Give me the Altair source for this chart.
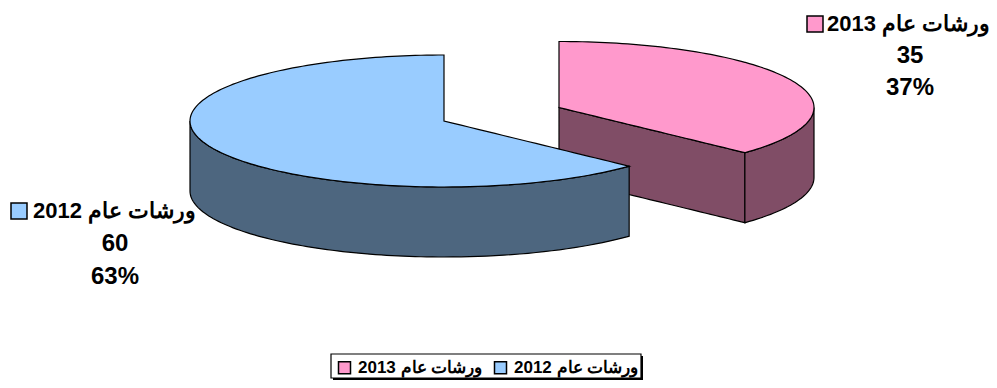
import numpy as np
import pandas as pd
import altair as alt

categories = ["ورشات عام 2013", "ورشات عام 2012"]
values = [35, 60]
percents = ["37%", "63%"]
colors = ["#FF99CC", "#99CCFF"]
side_colors = ["#804D66", "#4D667F"]

# page-pixel layout of the drawing
W, H = 981, 372
X_DOM = [8, 8 + W]
Y_DOM = [8 + H, 8]
centers = [(559, 107.5), (444, 121)]
radii_x = [255, 254]
RY, DEPTH = 66, 70
split = 2 * np.pi * int(percents[0].rstrip("%")) / 100  # clockwise from 12 o'clock
FONT = "Liberation Sans"
LW = 1.2


def frame(x, y, y2, name):
    return pd.DataFrame({"x": x, "y": y, "y2": y2, "part": name})


xs = alt.X("x:Q", scale=alt.Scale(domain=X_DOM), axis=None)
ys = alt.Y("y:Q", scale=alt.Scale(domain=Y_DOM), axis=None)
y2s = alt.Y2("y2:Q")
color_scale = alt.Scale(domain=categories, range=colors)
leg = alt.Legend(
    title=None, orient="none", legendX=328, legendY=351, columns=2,
    direction="horizontal", symbolType="square", symbolSize=144,
    symbolStrokeColor="black", symbolStrokeWidth=1.5, symbolOpacity=1,
    labelFont=FONT, labelFontSize=17, labelFontWeight="bold", labelColor="black",
    padding=0, columnPadding=8, labelOffset=5, labelLimit=200,
)


def wall(df, c):
    return alt.Chart(df).mark_area(color=c, stroke="black", strokeWidth=LW, opacity=1).encode(
        x=xs, y=ys, y2=y2s)


def top(df, legend):
    return alt.Chart(df).mark_area(stroke="black", strokeWidth=LW, opacity=1).encode(
        x=xs, y=ys, y2=y2s,
        color=alt.Color("part:N", scale=color_scale, legend=legend))


# ---- pink slice (0 .. split)
cx, cy = centers[0]
RX = radii_x[0]
sx, sy = cx + RX * np.sin(split), cy - RY * np.cos(split)
grid = np.sort(np.r_[cx + RX * np.sin(np.linspace(0, np.pi / 2, 70)), sx])
rim = RY * np.sqrt(np.clip(1 - ((grid - cx) / RX) ** 2, 0, 1))
upper = cy - rim
lower = np.where(grid <= sx, cy + (grid - cx) / (sx - cx) * (sy - cy), cy + rim)
pink_top = frame(grid, upper, lower, categories[0])
mask = grid <= sx
pink_cut = frame(grid[mask], lower[mask], lower[mask] + DEPTH, "w")
mask = grid >= sx
pink_rim = frame(grid[mask], lower[mask], lower[mask] + DEPTH, "w")

# ---- blue slice (split .. 2pi)
cx, cy = centers[1]
RX = radii_x[1]
sx, sy = cx + RX * np.sin(split), cy - RY * np.cos(split)
left = cx + RX * np.sin(np.linspace(-np.pi / 2, 0, 70))
right = cx + RX * np.sin(np.linspace(0, split, 70))
right = right[right <= sx]
gridb = np.r_[left, cx + 0.01, right[1:], sx]
gridb = np.unique(gridb)
rimb = RY * np.sqrt(np.clip(1 - ((gridb - cx) / RX) ** 2, 0, 1))
up = np.where(gridb <= cx, cy - rimb, cy + (gridb - cx) / (sx - cx) * (sy - cy))
lo = cy + rimb
blue_top = frame(gridb, up, lo, categories[1])
blue_rim = frame(gridb, lo, lo + DEPTH, "w")

# ---- data labels
head_rows = pd.DataFrame({"x": [827, 33], "y": [24, 211], "text": categories})
num_rows = pd.DataFrame({
    "x": [910, 910, 115, 115],
    "y": [56, 88, 244, 277],
    "text": [str(values[0]), percents[0], str(values[1]), percents[1]],
})


def text_layer(df, align, size):
    return alt.Chart(df).mark_text(font=FONT, fontSize=size, fontWeight="bold", color="black",
                                   align=align, baseline="middle").encode(
        x=xs, y=ys, text="text:N")


swatches = pd.DataFrame({"x": [815, 19], "y": [24, 211], "part": categories})
swatch = alt.Chart(swatches).mark_square(size=256, stroke="black", strokeWidth=1.5, opacity=1).encode(
    x=xs, y=ys, color=alt.Color("part:N", scale=color_scale, legend=None))

# ---- legend box and shadow
shadow = alt.Chart(pd.DataFrame({"x": [333], "x2": [643], "y": [356], "y2": [380]})).mark_rect(
    color="black").encode(x=xs, x2="x2:Q", y=ys, y2=y2s)
box = alt.Chart(pd.DataFrame({"x": [331], "x2": [641], "y": [354], "y2": [378]})).mark_rect(
    fill="white", stroke="black", strokeWidth=1.2).encode(x=xs, x2="x2:Q", y=ys, y2=y2s)

chart = alt.layer(
    wall(pink_cut, side_colors[0]), wall(pink_rim, side_colors[0]), top(pink_top, leg),
    wall(blue_rim, side_colors[1]), top(blue_top, leg),
    shadow, box,
    swatch, text_layer(head_rows, "left", 22), text_layer(num_rows, "center", 24),
).resolve_scale(color="shared").properties(
    width=W, height=H, padding=0, background="white",
    autosize=alt.AutoSizeParams(type="none"),
).configure_view(stroke=None)

chart.save("out.html", embed_options={"renderer": "svg", "actions": False})
